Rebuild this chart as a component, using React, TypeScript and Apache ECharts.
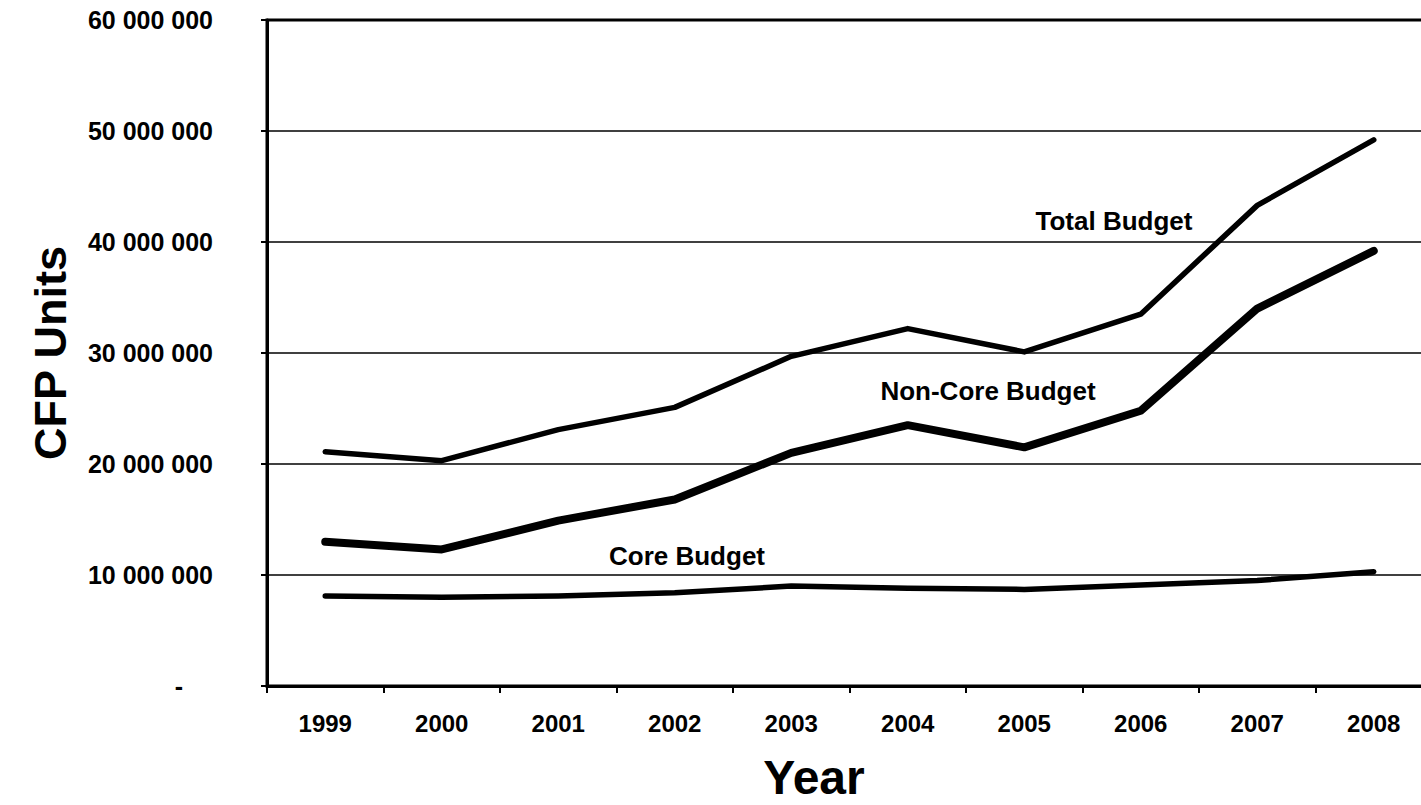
import React, { useEffect, useRef } from "react";
import * as echarts from "echarts";

const years = ["1999", "2000", "2001", "2002", "2003", "2004", "2005", "2006", "2007", "2008"];
const totalBudget = [21.1, 20.3, 23.1, 25.1, 29.7, 32.2, 30.1, 33.5, 43.3, 49.2].map((v) => v * 1e6);
const nonCoreBudget = [13.0, 12.3, 14.9, 16.8, 21.0, 23.5, 21.5, 24.8, 34.0, 39.2].map((v) => v * 1e6);
const coreBudget = [8.1, 8.0, 8.1, 8.4, 9.0, 8.8, 8.7, 9.1, 9.5, 10.3].map((v) => v * 1e6);

const FONT = "Liberation Sans, Arial, sans-serif";

function fmt(v: number): string {
  if (v === 0) return "{z|-}";
  return String(Math.round(v)).replace(/\B(?=(\d{3})+(?!\d))/g, " ");
}

export default function App() {
  const ref = useRef<HTMLDivElement>(null);
  useEffect(() => {
    document.body.style.margin = "0";
    const chart = echarts.init(ref.current!, null, { renderer: "svg" });
    const lineSeries = (name: string, data: number[], width: number) => ({
      name,
      type: "line",
      data,
      symbol: "none",
      smooth: false,
      lineStyle: { color: "#000", width, cap: "round", join: "round" },
      z: 5,
    });
    chart.setOption({
      animation: false,
      backgroundColor: "#fff",
      grid: {
        left: 267,
        top: 20,
        bottom: 119,
        width: 1165,
        outerBoundsMode: "none",
        containLabel: false,
        show: true,
        borderColor: "#000",
        borderWidth: 3,
      },
      xAxis: {
        type: "category",
        data: years,
        boundaryGap: true,
        axisLine: { lineStyle: { color: "#000", width: 3 } },
        axisTick: { show: true, length: 7, lineStyle: { color: "#000", width: 2 } },
        axisLabel: {
          color: "#000",
          fontFamily: FONT,
          fontWeight: "bold",
          fontSize: 24,
          margin: 25,
        },
      },
      yAxis: {
        type: "value",
        min: 0,
        max: 60000000,
        interval: 10000000,
        axisLine: { show: true, lineStyle: { color: "#000", width: 3 } },
        axisTick: { show: true, length: 6, lineStyle: { color: "#000", width: 2 } },
        splitLine: { show: true, lineStyle: { color: "#000", width: 1.5 } },
        axisLabel: {
          color: "#000",
          fontFamily: FONT,
          fontWeight: "bold",
          fontSize: 25,
          margin: 54,
          formatter: fmt,
          rich: {
            z: {
              color: "#000",
              fontFamily: FONT,
              fontWeight: "bold",
              fontSize: 25,
              padding: [0, 30, 0, 0],
            },
          },
        },
      },
      series: [
        lineSeries("Total Budget", totalBudget, 5.5),
        lineSeries("Non-Core Budget", nonCoreBudget, 8),
        lineSeries("Core Budget", coreBudget, 5.5),
      ],
      graphic: [
        {
          type: "text",
          x: 50,
          y: 353,
          rotation: Math.PI / 2,
          style: {
            text: "CFP Units",
            fill: "#000",
            font: `bold 45px ${FONT}`,
            textAlign: "center",
            textVerticalAlign: "middle",
          },
        },
        {
          type: "text",
          x: 814,
          y: 777,
          style: {
            text: "Year",
            fill: "#000",
            font: `bold 48px ${FONT}`,
            textAlign: "center",
            textVerticalAlign: "middle",
          },
        },
        {
          type: "text",
          x: 1114,
          y: 221,
          style: {
            text: "Total Budget",
            fill: "#000",
            font: `bold 26px ${FONT}`,
            textAlign: "center",
            textVerticalAlign: "middle",
          },
        },
        {
          type: "text",
          x: 988,
          y: 391,
          style: {
            text: "Non-Core Budget",
            fill: "#000",
            font: `bold 26px ${FONT}`,
            textAlign: "center",
            textVerticalAlign: "middle",
          },
        },
        {
          type: "text",
          x: 687,
          y: 556,
          style: {
            text: "Core Budget",
            fill: "#000",
            font: `bold 26px ${FONT}`,
            textAlign: "center",
            textVerticalAlign: "middle",
          },
        },
      ],
    });
    return () => chart.dispose();
  }, []);
  return <div ref={ref} style={{ width: 1421, height: 805, overflow: "hidden" }} />;
}
